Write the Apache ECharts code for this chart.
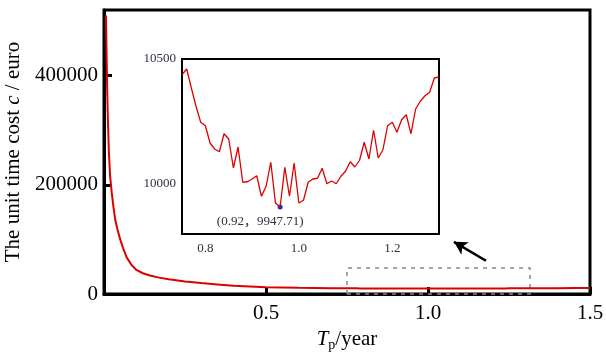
<!DOCTYPE html>
<html><head><meta charset="utf-8">
<script src="https://cdn.jsdelivr.net/npm/echarts@6/dist/echarts.min.js"></script>
<style>html,body{margin:0;padding:0;background:#fff}#c{width:606px;height:352px}</style>
</head><body><div id="c"></div>
<script>
// Main curve: steep decreasing part (T in years, cost in euro)
const steepT = [0.006, 0.008, 0.010, 0.012, 0.015, 0.019, 0.024, 0.029, 0.035, 0.042, 0.050, 0.060, 0.070, 0.085, 0.100, 0.120, 0.142, 0.170, 0.200, 0.250, 0.300, 0.350, 0.400, 0.500, 0.600, 0.700];
const steepC = [510000, 440000, 370000, 320000, 260000, 215000, 185000, 160000, 135000, 117000, 100000, 82000, 67000, 53000, 44000, 38000, 34000, 30000, 27000, 23000, 20000, 17500, 15000, 12300, 11300, 10700];
// Zoomed region (inset)
const insetT = [0.75,0.76,0.77,0.78,0.79,0.80,0.81,0.82,0.83,0.84,0.85,0.86,0.87,0.88,0.89,0.90,0.91,0.92,0.93,0.94,0.95,0.96,0.97,0.98,0.99,1.00,1.01,1.02,1.03,1.04,1.05,1.06,1.07,1.08,1.09,1.10,1.11,1.12,1.13,1.14,1.15,1.16,1.17,1.18,1.19,1.20,1.21,1.22,1.23,1.24,1.25,1.26,1.27,1.28,1.29,1.30];
const insetC = [10437,10460,10384,10311,10247,10233,10164,10140,10129,10201,10180,10064,10148,10007,10009,10020,10033,9951,9991,10087,9924,9908,10067,9951,10084,9924,9935,10007,10020,10023,10063,10001,10012,10001,10031,10051,10089,10068,10095,10167,10100,10215,10104,10137,10233,10247,10207,10257,10277,10201,10300,10331,10353,10367,10424,10428];
// Tail after the zoomed region
const tailT = [1.35, 1.40, 1.45, 1.50];
const tailC = [10550, 10700, 10850, 11000];
// Marked minimum
const minPoint = [0.96, 9908];
const minLabel = '(0.92\uFF0C9947.71)';
// Tick labels
const mainXTicks = [0.5, 1.0, 1.5];
const mainYTicks = [0, 200000, 400000];
const insetXTicks = [0.8, 1.0, 1.2];
const insetYTicks = [10000, 10500];

const zip = (a, b) => a.map((v, i) => [v, b[i]]);
const mainData = zip(steepT, steepC).concat(zip(insetT, insetC), zip(tailT, tailC));
const insetData = zip(insetT, insetC);

const serif = '"Liberation Serif","Times New Roman",serif';
const red = '#dd0000';

const chart = echarts.init(document.getElementById('c'), null, {renderer: 'canvas'});
chart.setOption({
  backgroundColor: '#fff',
  animation: false,
  grid: [
    {left: 104, right: 16, top: 10, bottom: 58, show: true, borderColor: '#000', borderWidth: 3, z: 0, containLabel: false, outerBoundsMode: 'none'},
    {left: 182, top: 59, width: 257, height: 175, show: true, borderColor: '#000', borderWidth: 2, backgroundColor: '#fff', z: 5, containLabel: false, outerBoundsMode: 'none'}
  ],
  xAxis: [
    {
      gridIndex: 0, type: 'value', min: 0, max: 1.5, interval: 0.5,
      axisLine: {lineStyle: {color: '#000', width: 3}},
      axisTick: {inside: true, length: 7, lineStyle: {color: '#000', width: 3}, customValues: mainXTicks},
      axisLabel: {customValues: mainXTicks, formatter: v => v.toFixed(1), color: '#000', fontFamily: serif, fontSize: 21, margin: 9},
      splitLine: {show: false},
      name: '{i|T}{s|p}{a|/year}', nameLocation: 'middle', nameGap: 24,
      nameTextStyle: {color: '#000', fontFamily: serif, fontSize: 21, rich: {
        i: {fontStyle: 'italic', fontFamily: serif, fontSize: 21, color: '#000', verticalAlign: 'top', lineHeight: 22},
        s: {fontFamily: serif, fontSize: 14, color: '#000', verticalAlign: 'top', lineHeight: 15, padding: [9, 0, 0, 0]},
        a: {fontFamily: serif, fontSize: 21, color: '#000', verticalAlign: 'top', lineHeight: 22}
      }}
    },
    {
      gridIndex: 1, type: 'value', min: 0.75, max: 1.3,
      axisLine: {lineStyle: {color: '#000', width: 2}},
      axisTick: {inside: true, length: 4, lineStyle: {color: '#000', width: 1.5}, customValues: insetXTicks},
      axisLabel: {customValues: insetXTicks, formatter: v => v.toFixed(1), color: '#2f3040', fontFamily: serif, fontSize: 13, margin: 8},
      splitLine: {show: false}
    }
  ],
  yAxis: [
    {
      gridIndex: 0, type: 'value', min: 0, max: 520000, interval: 200000,
      axisLine: {lineStyle: {color: '#000', width: 3}},
      axisTick: {inside: true, length: 8, lineStyle: {color: '#000', width: 3}, customValues: mainYTicks},
      axisLabel: {customValues: mainYTicks, formatter: v => String(v), color: '#000', fontFamily: serif, fontSize: 21, margin: 6},
      splitLine: {show: false},
      name: '{a|The unit time cost }{i|c}{a| / euro}', nameLocation: 'middle', nameGap: 77,
      nameTextStyle: {color: '#000', fontFamily: serif, fontSize: 21, rich: {
        a: {fontFamily: serif, fontSize: 21, color: '#000'},
        i: {fontFamily: serif, fontStyle: 'italic', fontSize: 21, color: '#000'}
      }}
    },
    {
      gridIndex: 1, type: 'value', min: 9800, max: 10500,
      axisLine: {lineStyle: {color: '#000', width: 2}},
      axisTick: {inside: true, length: 5, lineStyle: {color: '#000', width: 1.5}, customValues: insetYTicks},
      axisLabel: {customValues: insetYTicks, formatter: v => String(v), color: '#2f3040', fontFamily: serif, fontSize: 13, margin: 6},
      splitLine: {show: false}
    }
  ],
  series: [
    {
      type: 'line', xAxisIndex: 0, yAxisIndex: 0, data: mainData, showSymbol: false, z: 3,
      lineStyle: {color: red, width: 2},
      markArea: {
        silent: true,
        itemStyle: {color: 'rgba(0,0,0,0)', borderColor: '#888', borderWidth: 1.5, borderType: [4, 5]},
        data: [[{coord: [0.75, 0]}, {coord: [1.315, 47500]}]]
      },
      markLine: {
        silent: true, symbol: ['none', 'arrow'], symbolSize: [11, 13],
        lineStyle: {color: '#000', width: 2.5, type: 'solid'},
        label: {show: false},
        data: [[{coord: [1.179, 60800]}, {coord: [1.080, 95500]}]]
      }
    },
    {
      type: 'line', xAxisIndex: 1, yAxisIndex: 1, data: insetData, showSymbol: false, z: 10,
      lineStyle: {color: red, width: 1.3},
      markPoint: {
        symbol: 'circle', symbolSize: 5, itemStyle: {color: '#1030d0'},
        label: {show: true, position: 'bottom', offset: [-20, 1], formatter: minLabel, color: '#2f3040',
          fontFamily: '"Liberation Serif","Noto Sans CJK SC",serif', fontSize: 13},
        data: [{coord: minPoint}]
      }
    }
  ]
});
</script></body></html>
